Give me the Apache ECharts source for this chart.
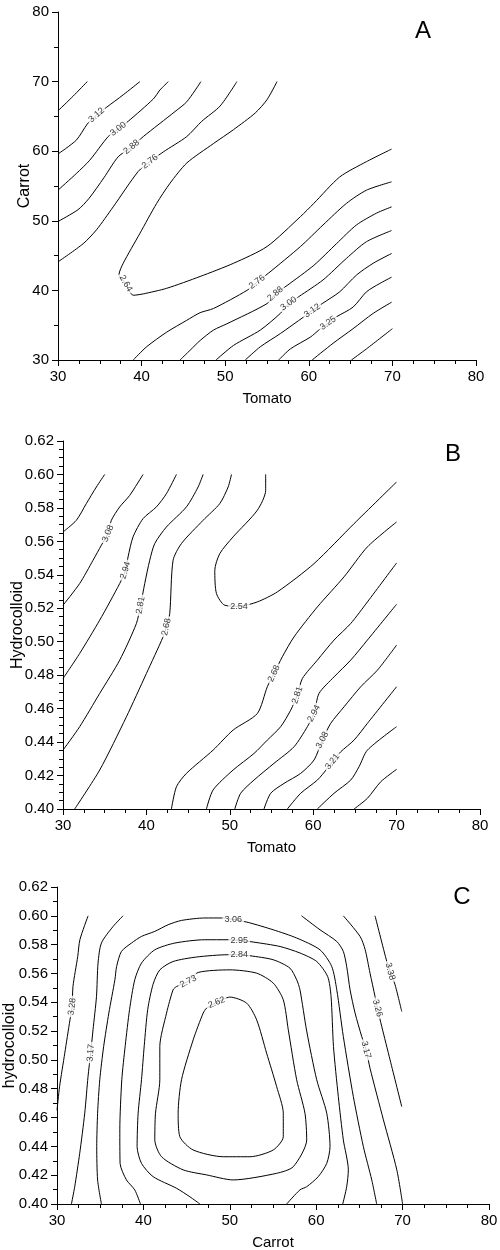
<!DOCTYPE html>
<html>
<head>
<meta charset="utf-8">
<script src="https://cdn.jsdelivr.net/npm/echarts@6/dist/echarts.min.js"></script>
<style>
    html, body { margin: 0; padding: 0; background: #fff; }
    #contour-chart { width: 500px; height: 1250px; }
</style>
</head>
<body>
<div id="contour-chart"></div>
<script>
// ---- panel A : Tomato (x) vs Carrot (y) ----
var A_325a = [[30,65.8],[31.8,67.9],[33.5,70]];
var A_312a = [[30,59.6],[32.2,61.6],[33.5,63.9],[34.6,65.2],[35.8,66.3],[37.8,68.1],[39.8,70]];
var A_300a = [[30,54.4],[32.2,56.8],[33.8,58.7],[36,62.1],[37.2,63.2],[38.4,64.3],[41.4,67.5],[42.2,68.8],[43.2,70]];
var A_288a = [[30,49.9],[32.4,51.6],[33.7,53.2],[35.5,56.2],[37.2,59.2],[38.8,60.6],[40.2,62.1],[44,65.7],[45.4,67.1],[47.1,70]];
var A_276a = [[30,44.1],[33,46.7],[34.6,48.7],[36.6,52],[39.6,57.1],[41,58.5],[42.6,59.9],[45.4,62.1],[47.2,64.3],[49.4,66.5],[51.4,70]];
var A_264 = [[56.2,70],[55,67.4],[53.6,65.5],[51,63.1],[48.6,61.1],[45.4,58.3],[43.4,55.4],[41.8,52.5],[39.8,48.2],[37.8,43.9],[37.3,42.3],[38.1,41],[39,39.3],[40.2,39.5],[43,40.3],[47,42],[51,43.9],[55,46.3],[59,50.6],[60.6,52.5],[63.7,56.3],[66.9,58.5],[69.9,60.3]];
var A_276b = [[39,30],[40.6,31.9],[43,34],[45.4,35.7],[47,36.8],[48.6,37.4],[52.6,40],[53.8,41.2],[55.2,42.5],[59,46.3],[61.7,49.4],[64.5,52.5],[66.9,54.4],[69.9,55.6]];
var A_288b = [[44.6,30],[45.8,31.4],[47,32.8],[48.6,34.3],[50.2,35.2],[55,38.1],[56,39.5],[57.4,40.7],[60.6,43.6],[63.3,46.7],[65.7,49.4],[68.1,51.1],[69.9,52]];
var A_300b = [[48.9,30],[51,32.1],[54.2,34.3],[56.6,36.7],[57.6,38.1],[58.8,39.1],[61.7,41.5],[64.5,44.6],[66.9,47],[69.9,48.6]];
var A_312b = [[52.4,30],[54.2,31.9],[56.6,33.8],[59.4,36.2],[60.4,37.1],[61.6,38.1],[63.7,39.8],[65.7,42.2],[67.7,43.9],[69.9,45.3]];
var A_325b = [[56.4,30],[57.8,31.6],[60.2,33.3],[61.2,34.3],[62.3,35.3],[63.3,36.2],[65.3,37.6],[66.9,39.8],[68.5,41],[69.9,41.9]];
var A_337b = [[60.4,30],[62.9,32.4],[65.3,34.5],[67.7,36.7],[69.9,38.3]];
var A_350b = [[65.1,30],[66.9,31.6],[70,34.5]];
// [text, x, y, angle]
var labelsA = [
    ['3.12', 34.6, 65.2, 41], ['3.00', 37.2, 63.2, 37], ['2.88', 38.8, 60.6, 39], ['2.76', 41.0, 58.5, 38],
    ['2.64', 38.1, 41.0, -60], ['2.76', 53.8, 41.2, 37], ['2.88', 56.0, 39.5, 40], ['3.00', 57.6, 38.1, 36],
    ['3.12', 60.4, 37.1, 35], ['3.25', 62.3, 35.3, 36]
];

// ---- panel B : Tomato (x) vs Hydrocolloid (y) ----
var B_321a = [[30,0.5656],[31.6,0.5726],[32.8,0.5826],[34.0,0.5925],[35.0,0.60]];
var B_308a = [[30,0.5218],[32.0,0.5348],[33.6,0.5487],[34.6,0.5577],[35.4,0.5647],[35.8,0.5726],[36.8,0.5806],[38.0,0.5875],[39.6,0.60]];
var B_294a = [[30,0.478],[32.0,0.493],[34.4,0.5129],[36.8,0.5348],[37.5,0.5427],[37.8,0.5507],[38.4,0.5627],[39.6,0.5736],[41.2,0.5806],[42.4,0.5885],[43.6,0.60]];
var B_281a = [[30,0.4352],[32.0,0.4492],[34.4,0.4691],[36.8,0.489],[38.8,0.5109],[39.3,0.5218],[39.8,0.5348],[40.4,0.5487],[41.0,0.5587],[42.4,0.5686],[44.8,0.5806],[46.2,0.5925],[46.8,0.60]];
var B_268a = [[31.4,0.40],[34.4,0.4233],[37.6,0.4551],[40.0,0.481],[42.0,0.5029],[42.4,0.5089],[42.8,0.5169],[43.2,0.5487],[44.2,0.5587],[46.8,0.5726],[48.8,0.5826],[49.8,0.5925],[50.2,0.60]];
var B_254 = [[54.3,0.60],[54.3,0.5905],[53.3,0.5786],[50.4,0.5627],[48.8,0.5527],[48.2,0.5427],[48.4,0.5288],[49.4,0.5218],[51.1,0.5212],[53.3,0.5238],[55.7,0.5298],[60.1,0.5467],[64.9,0.5706],[70,0.5955]];
var B_268b = [[43.0,0.40],[43.6,0.4133],[44.8,0.4213],[48.0,0.4352],[50.4,0.4472],[53.3,0.4571],[54.5,0.4731],[55.3,0.481],[56.3,0.491],[57.7,0.5029],[60.5,0.5208],[63.7,0.5388],[66.5,0.5567],[70,0.5716]];
var B_281b = [[47.2,0.40],[48.0,0.4114],[50.4,0.4233],[52.9,0.4332],[54.5,0.4412],[56.1,0.4492],[57.3,0.4591],[58.1,0.4681],[58.7,0.478],[60.5,0.489],[62.5,0.501],[64.5,0.5109],[66.5,0.5238],[70,0.5471]];
var B_294b = [[50.6,0.40],[51.3,0.4094],[52.9,0.4173],[55.3,0.4273],[57.7,0.4372],[59.3,0.4492],[60.1,0.4571],[60.7,0.4691],[62.5,0.479],[64.5,0.489],[66.5,0.501],[70,0.5224]];
var B_308b = [[54.1,0.40],[54.9,0.4094],[56.5,0.4153],[58.5,0.4213],[60.1,0.4293],[61.1,0.4412],[62.1,0.4512],[63.7,0.4611],[65.7,0.4731],[67.7,0.483],[70,0.498]];
var B_321b = [[56.9,0.40],[58.5,0.4094],[60.5,0.4173],[61.7,0.4243],[62.3,0.4283],[63.3,0.4342],[64.9,0.4412],[66.5,0.4512],[70,0.4731]];
var B_335b = [[60.5,0.40],[62.5,0.4094],[64.5,0.4173],[65.5,0.4253],[66.5,0.4352],[70,0.4492]];
var B_348b = [[64.9,0.40],[66.5,0.4064],[68.1,0.4163],[70,0.4237]];
var labelsB = [
    ['3.08', 35.4, 0.5647, 68], ['2.94', 37.5, 0.5427, 73], ['2.81', 39.3, 0.5218, 80], ['2.68', 42.4, 0.5089, 78],
    ['2.54', 51.1, 0.5212, 0], ['2.68', 55.3, 0.481, 65], ['2.81', 58.1, 0.4681, 72], ['2.94', 60.1, 0.4571, 62],
    ['3.08', 61.1, 0.4412, 62], ['3.21', 62.3, 0.4283, 52]
];

// ---- panel C : Carrot (x) vs hydrocolloid (y) ----
var C_328 = [[30,0.465],[30.3,0.4815],[30.9,0.5047],[31.5,0.5278],[31.75,0.537],[31.85,0.551],[32.4,0.5718],[32.65,0.5834],[33.6,0.60]];
var C_317a = [[31.67,0.40],[32.05,0.412],[32.63,0.4352],[33.21,0.463],[33.59,0.4884],[33.9,0.505],[34.17,0.5209],[34.57,0.544],[34.75,0.5672],[35.14,0.5811],[36.49,0.5926],[37.65,0.60]];
var C_306 = [[35.14,0.40],[34.7,0.4167],[34.6,0.4398],[34.7,0.463],[34.95,0.4862],[35.4,0.5093],[36.0,0.5325],[36.7,0.5556],[36.9,0.5648],[37.46,0.5753],[38.62,0.5811],[39.78,0.5857],[41.32,0.5892],[42.86,0.5938],[44.41,0.5968],[47.11,0.5985],[49.05,0.5985],[50.4,0.5975],[52.13,0.5954],[55.03,0.5903],[57.74,0.5846],[60.44,0.5764],[61.8,0.5648],[62.38,0.5487],[63.14,0.5162],[64.3,0.4745],[65.46,0.4398],[66.43,0.4167],[67.0,0.40]];
var C_295 = [[39.66,0.40],[39.0,0.4098],[38.04,0.4167],[37.3,0.4282],[37.27,0.4514],[37.5,0.4862],[37.9,0.51],[38.4,0.535],[39.0,0.5556],[39.78,0.5672],[41.32,0.5764],[43.64,0.5811],[47.11,0.5834],[49.82,0.5834],[51.09,0.5829],[52.71,0.5818],[55.82,0.5787],[58.12,0.5742],[60.06,0.5683],[61.33,0.5578],[61.72,0.544],[62.0,0.5093],[62.56,0.4745],[63.14,0.4445],[63.72,0.4237],[63.53,0.412],[63.07,0.40]];
var C_284 = [[46.54,0.40],[45.38,0.405],[43.84,0.4109],[41.12,0.419],[39.78,0.4282],[39.27,0.4398],[39.39,0.463],[39.78,0.4862],[40.1,0.51],[40.5,0.535],[41.12,0.5525],[41.9,0.5625],[43.44,0.5683],[46.15,0.5714],[49.82,0.573],[51.09,0.573],[52.33,0.5723],[55.03,0.5695],[56.96,0.5637],[57.74,0.5556],[58.12,0.5487],[58.9,0.52],[60.06,0.4862],[61.22,0.463],[61.6,0.4398],[61.22,0.4282],[60.24,0.419],[58.9,0.412],[58.12,0.4098],[56.58,0.40]];
var C_273 = [[45.19,0.5544],[46.34,0.5607],[50.01,0.5625],[53.11,0.5602],[55.03,0.5533],[56.19,0.5417],[56.77,0.5209],[57.74,0.4862],[58.7,0.463],[58.9,0.4445],[57.35,0.4259],[55.42,0.4213],[50.39,0.4167],[47.31,0.4202],[44.6,0.4237],[42.1,0.4328],[41.32,0.4445],[41.4,0.463],[41.9,0.4862],[41.9,0.5093],[42.68,0.5325],[43.44,0.5487],[43.84,0.5509],[45.19,0.5544]];
var C_262 = [[48.47,0.5398],[50.01,0.5436],[51.95,0.5394],[53.11,0.5278],[54.26,0.5047],[55.42,0.4815],[56.19,0.463],[56.19,0.4467],[55.03,0.4375],[52.33,0.4328],[49.24,0.4328],[45.76,0.4375],[44.22,0.4467],[44.02,0.463],[44.41,0.4862],[45.76,0.5139],[46.92,0.5325],[47.31,0.5359],[48.47,0.5398]];
var C_317b = [[58.3,0.60],[60.44,0.5903],[62.38,0.5822],[63.14,0.5753],[63.53,0.5648],[63.92,0.5487],[64.5,0.5325],[65.27,0.5162],[65.77,0.507],[66.23,0.4942],[67.78,0.4584],[69.33,0.4237],[70,0.40]];
var C_326 = [[63.14,0.60],[65.08,0.5857],[65.66,0.5767],[66.23,0.5602],[66.81,0.544],[67.08,0.5359],[67.59,0.5231],[68.55,0.50],[69.9,0.4676]];
var C_338 = [[66.81,0.60],[68.17,0.5683],[68.55,0.5614],[69.13,0.5521],[69.9,0.5336]];
var labelsC = [
    ['3.28', 31.75, 0.537, 83], ['3.17', 33.9, 0.505, 85], ['3.06', 50.4, 0.5975, 0], ['2.95', 51.09, 0.5829, 0],
    ['2.84', 51.09, 0.573, 0], ['2.73', 45.19, 0.5544, 28], ['2.62', 48.47, 0.5398, 22],
    ['3.17', 65.77, 0.507, -75], ['3.26', 67.08, 0.5359, -75], ['3.38', 68.55, 0.5614, -75]
];

var xTicks = [30, 80, 10];          // min, max, step (all panels)
var yTicksA = [30, 80, 10];
var yTicksBC = [0.40, 0.62, 0.02];

var contoursA = [A_325a, A_312a, A_300a, A_288a, A_276a, A_264, A_276b, A_288b, A_300b, A_312b, A_325b, A_337b, A_350b];
var contoursB = [B_321a, B_308a, B_294a, B_281a, B_268a, B_254, B_268b, B_281b, B_294b, B_308b, B_321b, B_335b, B_348b];
var contoursC = [C_328, C_317a, C_306, C_295, C_284, C_273, C_262, C_317b, C_326, C_338];

var FONT = '"Liberation Sans", Arial, sans-serif';

var echart = echarts.init(document.getElementById('contour-chart'));

var xAxisOf = function(grid, name) {
    return {
        type: 'value', gridIndex: grid,
        min: xTicks[0], max: xTicks[1], interval: xTicks[2],
        name: name, nameLocation: 'middle', nameGap: 31, nameMoveOverlap: false,
        nameTextStyle: { fontSize: 15, color: '#000', fontFamily: FONT },
        axisLine: { show: true, onZero: false, lineStyle: { color: '#000', width: 1 } },
        axisTick: { show: true, inside: false, length: 6, lineStyle: { color: '#000' } },
        minorTick: { show: true, splitNumber: 4, length: 4, lineStyle: { color: '#000' } },
        axisLabel: { fontSize: 15, color: '#000', margin: 9, fontFamily: FONT },
        splitLine: { show: false }, minorSplitLine: { show: false }
    };
};

var yAxisOf = function(grid, name, ticks, minorSplit, gap, decimals) {
    return {
        type: 'value', gridIndex: grid,
        min: ticks[0], max: ticks[1], interval: ticks[2],
        name: name, nameLocation: 'middle', nameGap: gap, nameMoveOverlap: false,
        nameTextStyle: { fontSize: 16, color: '#000', fontFamily: FONT },
        axisLine: { show: true, onZero: false, lineStyle: { color: '#000', width: 1 } },
        axisTick: { show: true, inside: false, length: 6, lineStyle: { color: '#000' } },
        minorTick: { show: true, splitNumber: minorSplit, length: 4, lineStyle: { color: '#000' } },
        axisLabel: {
            fontSize: 15, color: '#000', margin: 9, fontFamily: FONT,
            formatter: function(v) { return v.toFixed(decimals); }
        },
        splitLine: { show: false }, minorSplitLine: { show: false }
    };
};

var lineSeries = function(lines, grid) {
    return lines.map(function(pts) {
        return {
            type: 'line', xAxisIndex: grid, yAxisIndex: grid,
            data: pts, symbol: 'none', showSymbol: false, smooth: 0.25,
            lineStyle: { color: '#000', width: 1 }, silent: true, z: 2
        };
    });
};

var labelSeries = function(labels, grid) {
    return {
        type: 'scatter', xAxisIndex: grid, yAxisIndex: grid, symbolSize: 0, silent: true, z: 5,
        data: labels.map(function(l) {
            return { name: l[0], value: [l[1], l[2]], label: { rotate: l[3] } };
        }),
        label: {
            show: true, position: 'inside', formatter: '{b}',
            fontSize: 9, color: '#000', fontFamily: FONT,
            backgroundColor: '#fff', padding: [0, 2]
        }
    };
};

var gridBase = { containLabel: false, outerBoundsMode: 'none' };

var option = {
    backgroundColor: '#fff',
    animation: false,
    grid: [
        Object.assign({ left: 58, top: 12, width: 418, height: 348 }, gridBase),
        Object.assign({ left: 63, top: 441, width: 417, height: 368 }, gridBase),
        Object.assign({ left: 57, top: 887, width: 432, height: 317 }, gridBase)
    ],
    xAxis: [xAxisOf(0, 'Tomato'), xAxisOf(1, 'Tomato'), xAxisOf(2, 'Carrot')],
    yAxis: [
        yAxisOf(0, 'Carrot', yTicksA, 2, 25, 0),
        yAxisOf(1, 'Hydrocolloid', yTicksBC, 4, 37, 2),
        yAxisOf(2, 'hydrocolloid', yTicksBC, 2, 39, 2)
    ],
    graphic: [
        { type: 'text', x: 423, y: 31, style: { text: 'A', fontSize: 24, fontFamily: FONT, fill: '#000', align: 'center', verticalAlign: 'middle' } },
        { type: 'text', x: 453, y: 454, style: { text: 'B', fontSize: 24, fontFamily: FONT, fill: '#000', align: 'center', verticalAlign: 'middle' } },
        { type: 'text', x: 462, y: 897, style: { text: 'C', fontSize: 24, fontFamily: FONT, fill: '#000', align: 'center', verticalAlign: 'middle' } }
    ],
    series: [].concat(
        lineSeries(contoursA, 0), [labelSeries(labelsA, 0)],
        lineSeries(contoursB, 1), [labelSeries(labelsB, 1)],
        lineSeries(contoursC, 2), [labelSeries(labelsC, 2)]
    )
};

echart.setOption(option);
</script>
</body>
</html>
